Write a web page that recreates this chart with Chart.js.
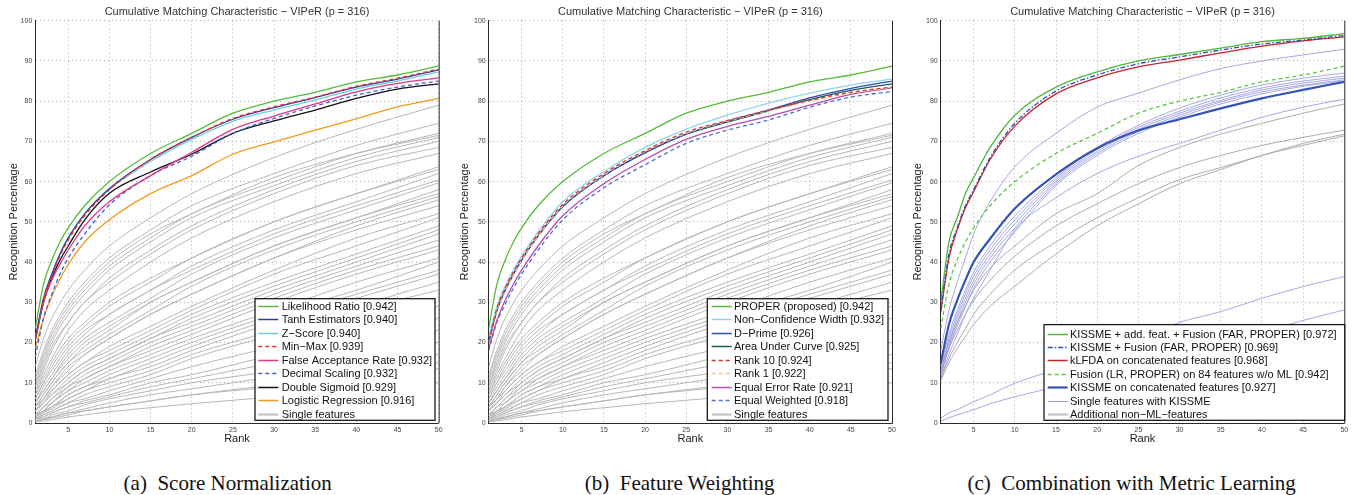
<!DOCTYPE html>
<html><head><meta charset="utf-8">
<script src="https://cdn.jsdelivr.net/npm/chart.js@4.4.0/dist/chart.umd.min.js"></script>
<style>
html,body{margin:0;padding:0;background:#fff;}
#wrap{position:relative;width:1353px;height:495px;overflow:hidden;background:#fff;}
.panel{position:absolute;top:0;height:450px;}
.cap{position:absolute;top:470.7px;line-height:24px;font-family:"Liberation Serif","Times New Roman",serif;font-size:21px;color:#111;white-space:pre;transform:translateX(-50%);}
</style></head><body>
<div id="wrap">
  <div class="panel" style="left:0;width:450px"><canvas id="ca" width="450" height="450"></canvas></div>
  <div class="panel" style="left:450px;width:450px"><canvas id="cb" width="450" height="450"></canvas></div>
  <div class="panel" style="left:900px;width:453px"><canvas id="cc" width="453" height="450"></canvas></div>
  <div class="cap" style="left:227.7px">(a)  Score Normalization</div>
  <div class="cap" style="left:679.7px">(b)  Feature Weighting</div>
  <div class="cap" style="left:1131.7px">(c)  Combination with Metric Learning</div>
</div>
<script>
// ---------- data ----------
const RANKS = [1,2,3,4,5,7,10,15,20,25,30,35,40,45,50];
const RANKS_SINGLE = [1,2,3,5,7,10,15,20,30,40,50];
const X_TICKS = [5,10,15,20,25,30,35,40,45,50];
const Y_TICKS = [0,10,20,30,40,50,60,70,80,90,100];
const TITLE = 'Cumulative Matching Characteristic \u2212 VIPeR (p = 316)';

// panel (a) score normalization
const likelihoodRatio = [23.5,34.5,40.5,45,48.5,54,60,67,72,77,80,82.2,84.8,86.5,88.7];
const tanhEstimators  = [21,31,37,42,46,52,58.3,65.5,71,75.5,78.4,80.9,83.5,85.5,87.8];
const zScore          = [21,31,37,42,46,52,58,65,70.5,75,77.8,80.3,83,85,87.3];
const minMax          = [20.5,30.5,36.5,41.5,45.5,51.5,58,65.5,71,75.7,78.6,81,83.7,85.7,88];
const falseAccRate    = [21,30,35.5,39.5,43,49,55,61.5,67.3,73,76.3,79.3,82.3,84.4,85.8];
const decimalScaling  = [16.5,26,32,37,41,47,54.2,61.5,66.3,72,75.7,78.8,81.5,83.5,85];
const doubleSigmoid   = [20.7,30,36,40.5,44,50.5,57.1,62.4,66.8,72,75.1,77.8,80.7,83,84.3];
const logisticReg     = [18.5,26,31.4,35.8,39.4,45,50.5,57,61.5,66.8,69.9,72.8,75.6,78.6,80.7];

// panel (b) feature weighting
const proper          = [23.5,34.5,40.5,45,48.5,54,60,67,72,77,80,82.2,84.8,86.5,88.7];
const nonConfWidth    = [21.5,29,34,38,41.5,47.5,55,62.5,68.5,73,76.5,79.5,82,84,85.5];
const dPrime          = [20,28,33,37,40.5,46.5,53.8,61.5,67.2,71.8,75,77.8,80.8,83.2,85];
const areaUnderCurve  = [20,28,33,37,40.5,46.5,53.8,61.5,67.2,71.8,74.8,77.6,80.4,82.7,84.3];
const rank10w         = [20.3,28.5,33.5,37.5,41,47,54.3,62,67.7,72.3,75.2,77.8,80.2,82.2,83.5];
const rank1w          = [20,28,33,37,40.5,46.5,54,61.7,67.5,72,75,77.6,80,82,83.3];
const equalErrorRate  = [18.5,25.5,30.5,34.5,38,44,51.5,59.5,65.5,70.5,73.7,76.2,79,81.7,83.3];
const equalWeighted   = [18,25,29.5,33.5,37,43,50.5,58.5,64.2,69.5,72.8,75.3,78.5,81,82.4];

// single features (panels a and b), values at RANKS_SINGLE
const singleFeatures = [
 [14,21,26,33,38,44,51,57,66,73,79],
 [12,18,23,30,35,41,48,54,62,69,74.5],
 [10,16,21,28,33,39,46,52,60,67,72],
 [11,17,22,29,34,40,47,52,61,67,71.5],
 [9,15,20,27,32,38,45,51,59,66,71],
 [8,13,18,25,30,36,43,49,58,65,70],
 [9,14,19,25,30,35,42,48,57,64,68.5],
 [7,12,16,23,28,33,40,46,55,62,67],
 [6,10,14,20,24,29,35,41,50,57,63.7],
 [7,11,15,21,25,30,36,41,50,57,63],
 [5,9,12,18,22,27,33,39,48,55,62],
 [6,10,13,19,23,27,33,38,47,54,60.4],
 [5,8,11,17,21,25,31,37,46,53,59.7],
 [4,7,10,15,19,23,30,35,44,51,58],
 [5,8,11,16,20,24,30,35,44,51,57],
 [4,7,10,15,18,22,28,34,43,50,56.3],
 [4,6,9,14,17,21,27,32,41,49,55.5],
 [3,6,9,13,17,21,27,32,41,48,54],
 [3,5,8,12,15,19,24,29,38,46,52],
 [4,6,8,12,15,18,23,28,37,44,51],
 [3,5,7,11,14,17,22,27,35,42,49],
 [2,4,6,10,13,16,21,26,34,41,48],
 [3,5,7,10,13,16,21,25,33,40,47],
 [2,4,6,9,12,15,20,24,32,39,45.5],
 [2,4,5,9,11,14,19,23,31,38,44],
 [2,3,5,8,11,14,18,22,30,37,43],
 [2,3,5,8,10,13,17,21,28,35,41],
 [1.5,3,4,7,9,12,16,20,27,33,40],
 [2,3,4,7,9,11,15,19,26,32,38],
 [1,2.5,4,6,8,11,14,18,25,31,37],
 [1.5,2.5,3.5,6,8,10,13,17,23,29,35],
 [1,2,3,5,7,9,12,16,22,28,33],
 [1,2,3,5,6,8,11,14,19,24,29],
 [0.5,1.5,2.5,4,5.5,7,10,12,17,22,26],
 [1,1.5,2.5,4,5,6.5,9,11,15,19,23],
 [0.5,1,2,3,4.5,6,8,10,13,17,20],
 [0.5,1,1.5,2.5,3.5,5,7,8.5,11.5,14.5,17],
 [0.3,0.8,1.2,2,3,4,5.5,7,9.5,12,15],
 [0.5,1,1.5,2.5,3,4,5.5,7,9,11.5,13.5],
 [0.3,0.5,0.8,1.5,2,2.8,3.8,4.8,6.5,8.5,10]
];

// panel (c) combination with metric learning, values at RANKS
const kissmeAddFusion = [30,45,51,57,61,68.5,76.5,83.5,87.3,90,91.6,93.2,94.8,95.6,96.8];
const kissmeFusion    = [28,42,48.5,54,58,66,74.5,82.5,86.5,89.3,91,92.7,94.2,95.2,96.3];
const klfdaConcat     = [27.5,41,48,53.5,57.5,65.5,73.8,81.8,85.8,88.5,90.2,92,93.7,95,96];
const fusionNoML      = [23.5,34.5,40.5,45,48.5,54,60,67,72,77,80,82.2,84.8,86.5,88.7];
const kissmeConcat    = [14.8,24.5,30.5,35.5,40,45.8,53.3,61.8,68.3,72.7,75.5,78.2,80.7,82.8,84.8];
const kissmeSingle = [
 [18,28,35,41,47,55,63.7,72,78.5,82,85.3,88.1,90,91.5,92.9],
 [14,22,28,33,37.5,44,51.5,61,68.5,74,78.3,81.5,84,85.7,87],
 [13,21,27,32,36.5,43,50.5,60.5,68,73.5,77.5,80.8,83.3,85,86.2],
 [12.5,20,26,31,35.5,42,49.5,60,67.5,73,77,80.2,82.8,84.5,85.7],
 [12,19,25,30,34.5,41,48.5,59.5,67,72.5,76.5,79.8,82.3,84,85.3],
 [12,18.5,24,29,33.5,40,47.5,59,66.5,72,76,79.3,81.8,83.7,85],
 [11,17,22,27,31,38,48,56,62,66.3,69.5,72.8,76,78.5,80.5],
 [1.2,2.5,3.3,4.3,5.3,7,9.9,13.3,17,21,25,27.7,31,33.9,36.4],
 [0.5,1.3,2,2.7,3.3,4.8,6.5,9,11.5,14,16.5,19.5,22.5,25.5,28.1]
];
const nonMLFeatures = [
 [13,20,25,29,33,38.5,44,52,57,64,68.5,71.8,74.5,77,79.3],
 [12,18.5,23,27,30.5,35.5,41.5,49,54.5,59.5,63.5,66.5,69,71,72.8],
 [11,16,20,23.5,27,32,38,45,51,56,60.5,63.5,66.5,69.5,71.8],
 [10.5,15,18.5,21.5,24.5,29,34,42,49,54.5,59.5,63,66.5,69,71.4]
];

// ---------- rendering ----------
const FONT = '"Liberation Sans", Arial, Helvetica, sans-serif';
Chart.defaults.font.family = FONT;

const GRAY = '#b7b7b7';
const LAV = '#9d9de2';
const DASH = [4,3];
const DASHDOT = [5,2,1.5,2];

function pts(ranks, vals){ return ranks.map((r,i)=>({x:r, y:vals[i]})); }
function ds(label, ranks, vals, color, w, dash){
  return {label, data: pts(ranks, vals), borderColor: color, borderWidth: w, borderDash: dash || [],
          pointRadius: 0, fill: false, cubicInterpolationMode: 'monotone', borderCapStyle: 'butt'};
}

const LEGENDS = {};

const frameLegend = {
  id: 'frameLegend',
  afterDatasetsDraw(chart){
    const {ctx, chartArea: a} = chart;
    ctx.save();
    ctx.setLineDash([]);
    ctx.strokeStyle = '#2a2a2a'; ctx.lineWidth = 1;
    ctx.beginPath(); ctx.moveTo(a.right + 0.5, a.top); ctx.lineTo(a.right + 0.5, a.bottom); ctx.stroke();
    ctx.fillStyle = '#333'; ctx.font = '11px ' + FONT; ctx.textAlign = 'center'; ctx.textBaseline = 'middle';
    ctx.fillText(TITLE, (a.left + a.right) / 2, 11.5);
    const L = LEGENDS[chart.canvas.id];
    if (L) {
      const x1 = a.right - L.ir, y1 = a.bottom - L.ib;
      const x0 = x1 - L.w, y0 = y1 - L.h;
      ctx.fillStyle = '#fff'; ctx.fillRect(x0, y0, L.w, L.h);
      ctx.strokeStyle = '#1a1a1a'; ctx.lineWidth = 1.3; ctx.strokeRect(x0, y0, L.w, L.h);
      ctx.font = '11px ' + FONT; ctx.textAlign = 'left'; ctx.textBaseline = 'middle';
      L.items.forEach((it, i) => {
        const y = Math.round(y0 + L.first + i * L.row) + 0.5;
        ctx.beginPath(); ctx.setLineDash(it.dash || []); ctx.strokeStyle = it.color; ctx.lineWidth = it.lw;
        ctx.moveTo(x0 + L.sx, y); ctx.lineTo(x0 + L.sx + 20, y); ctx.stroke();
        ctx.setLineDash([]); ctx.fillStyle = '#111';
        ctx.fillText(it.text, x0 + L.tx, y + 0.5);
      });
    }
    ctx.restore();
  }
};

function scales(yWidth, yTitlePad){
  const grid = {color: '#9a9a9a', lineWidth: 0.8, drawTicks: false};
  const border = {color: '#2a2a2a', width: 1, dash: [1, 3]};
  return {
    x: {type: 'linear', min: 1, max: 50,
        afterBuildTicks: s => { s.ticks = X_TICKS.map(v => ({value: v})); },
        afterFit: s => { s.height = 27; },
        grid, border,
        ticks: {font: {size: 7}, color: '#444', padding: 3, maxRotation: 0, autoSkip: false},
        title: {display: true, text: 'Rank', font: {size: 11}, color: '#222', padding: {top: 0, bottom: 4.2}}},
    y: {type: 'linear', min: 0, max: 100,
        afterBuildTicks: s => { s.ticks = Y_TICKS.map(v => ({value: v})); },
        afterFit: s => { s.width = yWidth; },
        grid, border,
        ticks: {font: {size: 7}, color: '#444', padding: 3, autoSkip: false},
        title: {display: true, text: 'Recognition Percentage', font: {size: 11}, color: '#222', padding: {top: yTitlePad, bottom: 0}}}
  };
}

function makeChart(id, datasets, yWidth, yTitlePad, rightPad){
  return new Chart(document.getElementById(id), {
    type: 'line',
    data: {datasets},
    options: {
      responsive: false, animation: false, events: [],
      layout: {padding: {left: 0, right: rightPad, top: 20.7, bottom: 0}},
      plugins: {legend: {display: false}, tooltip: {enabled: false}, title: {display: false}},
      scales: scales(yWidth, yTitlePad)
    },
    plugins: [frameLegend]
  });
}

// panel a
const mainA = [
  ds('Likelihood Ratio [0.942]', RANKS, likelihoodRatio, '#55bb38', 1.3),
  ds('Tanh Estimators [0.940]', RANKS, tanhEstimators, '#2b3f99', 1.3),
  ds('Z\u2212Score [0.940]', RANKS, zScore, '#6ccfd8', 1.3),
  ds('Min\u2212Max [0.939]', RANKS, minMax, '#e8312f', 1.3, DASH),
  ds('False Acceptance Rate [0.932]', RANKS, falseAccRate, '#e3358c', 1.3),
  ds('Decimal Scaling [0.932]', RANKS, decimalScaling, '#3b63d0', 1.3, DASH),
  ds('Double Sigmoid [0.929]', RANKS, doubleSigmoid, '#111111', 1.3),
  ds('Logistic Regression [0.916]', RANKS, logisticReg, '#f39a1e', 1.3)
];
const orderA = [3,0,1,2,4,5,6,7];
const graysAB = () => singleFeatures.map(v => ds('Single features', RANKS_SINGLE, v, GRAY, 1));
LEGENDS.ca = {w: 180, h: 121.6, ir: 3.7, ib: 2.7, first: 7.3, row: 13.46, sx: 3.3, tx: 26.7,
  items: mainA.map(d => ({text: d.label, color: d.borderColor, lw: 1.5, dash: d.borderDash}))
          .concat([{text: 'Single features', color: '#c4c4c4', lw: 2.2}])};
makeChart('ca', orderA.map(i => mainA[i]).concat(graysAB()), 35.3, 7, 11.3);

// panel b
const mainB = [
  ds('PROPER (proposed) [0.942]', RANKS, proper, '#55bb38', 1.3),
  ds('Non\u2212Confidence Width [0.932]', RANKS, nonConfWidth, '#8fd4ec', 1.3),
  ds('D\u2212Prime [0.926]', RANKS, dPrime, '#2c4cb0', 1.3),
  ds('Area Under Curve [0.925]', RANKS, areaUnderCurve, '#1f5b5e', 1.3),
  ds('Rank 10 [0.924]', RANKS, rank10w, '#d9342b', 1.3, DASH),
  ds('Rank 1 [0.922]', RANKS, rank1w, '#f7c48e', 1.3, DASH),
  ds('Equal Error Rate [0.921]', RANKS, equalErrorRate, '#b44cb8', 1.3),
  ds('Equal Weighted [0.918]', RANKS, equalWeighted, '#4a72d6', 1.3, DASH)
];
const orderB = [4,5,0,1,2,3,6,7];
LEGENDS.cb = {w: 180.7, h: 121.6, ir: 4, ib: 2.7, first: 7.3, row: 13.46, sx: 4.4, tx: 26.7,
  items: mainB.map(d => ({text: d.label, color: d.borderColor, lw: 1.5, dash: d.borderDash}))
          .concat([{text: 'Single features', color: '#c4c4c4', lw: 2.2}])};
makeChart('cb', orderB.map(i => mainB[i]).concat(graysAB()), 38.7, 8.7, 8);

// panel c
const mainC = [
  ds('KISSME + add. feat. + Fusion (FAR, PROPER) [0.972]', RANKS, kissmeAddFusion, '#4db836', 1.3),
  ds('KISSME + Fusion (FAR, PROPER) [0.969]', RANKS, kissmeFusion, '#2e4fb5', 1.3, DASHDOT),
  ds('kLFDA on concatenated features [0.968]', RANKS, klfdaConcat, '#c8242a', 1.3),
  ds('Fusion (LR, PROPER) on 84 features w/o ML [0.942]', RANKS, fusionNoML, '#5cc846', 1.3, DASH),
  ds('KISSME on concatenated features [0.927]', RANKS, kissmeConcat, '#3353b8', 2.2)
];
const orderC = [1,0,2,3,4];
const lavC = kissmeSingle.map(v => ds('Single features with KISSME', RANKS, v, LAV, 0.9));
const grayC = nonMLFeatures.map(v => ds('Additional non\u2212ML\u2212features', RANKS, v, '#acacac', 1));
LEGENDS.cc = {w: 300.7, h: 95.7, ir: -0.4, ib: 2.7, first: 9, row: 13.4, sx: 3.7, tx: 26,
  items: mainC.map(d => ({text: d.label, color: d.borderColor, lw: d.borderWidth > 2 ? 2.2 : 1.5, dash: d.borderDash}))
          .concat([{text: 'Single features with KISSME', color: LAV, lw: 1},
                   {text: 'Additional non\u2212ML\u2212features', color: '#c4c4c4', lw: 2.2}])};
makeChart('cc', orderC.map(i => mainC[i]).concat(lavC, grayC), 40.7, 11, 8.7);
</script>
</body></html>
